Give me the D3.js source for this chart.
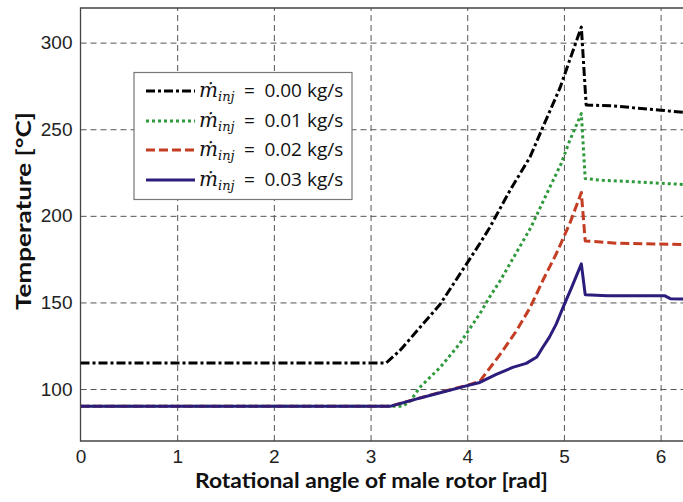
<!DOCTYPE html>
<html>
<head>
<meta charset="utf-8">
<script src="https://cdn.jsdelivr.net/npm/d3@7/dist/d3.min.js"></script>
<style>
  body { margin: 0; background: #fff; }
  svg { display: block; }
</style>
</head>
<body>
<div id="chart"></div>
<script>
// данные
const xTicks = [0, 1, 2, 3, 4, 5, 6];
const yTicks = [100, 150, 200, 250, 300];
const flowRates = ["0.00", "0.01", "0.02", "0.03"];

const angle000 = [0, 3.16, 3.30, 3.51, 3.72, 3.99, 4.13, 4.23, 4.44, 4.65, 4.78, 4.96, 5.06, 5.18, 5.23, 5.5, 5.8, 6.0, 6.283];
const temp000  = [115, 115, 122, 135.5, 149, 172, 184, 193, 214.5, 234, 251, 274, 290, 309, 264, 263.5, 262, 261, 259.5];

const angle001 = [0, 3.33, 3.41, 3.51, 3.65, 3.72, 3.92, 4.01, 4.13, 4.23, 4.34, 4.66, 4.82, 4.97, 5.06, 5.18, 5.22, 5.4, 5.68, 6.0, 6.283];
const temp001  = [90, 90, 93, 101, 108.7, 112.5, 126, 133.5, 143.5, 153, 162.5, 193.5, 212.5, 230, 243.5, 259, 221.5, 220.5, 219.8, 218.8, 218];

const angle002 = [0, 3.2, 3.47, 3.7, 3.99, 4.13, 4.16, 4.34, 4.51, 4.65, 4.78, 4.92, 5.06, 5.18, 5.22, 5.55, 5.93, 6.283];
const temp002  = [90, 90, 94.2, 97.8, 102, 104.5, 106.7, 120, 133.7, 147, 162.5, 178, 195.5, 213.5, 185.5, 184.2, 183.8, 183.4];

const angle003 = [0, 3.2, 3.47, 3.7, 3.99, 4.13, 4.30, 4.47, 4.61, 4.72, 4.78, 4.85, 4.92, 4.99, 5.08, 5.18, 5.22, 5.45, 6.04, 6.1, 6.283];
const temp003  = [90, 90, 94.2, 97.6, 101.8, 103.8, 108.5, 112.5, 114.8, 118.5, 124, 130, 137.5, 147, 158.7, 172.3, 154.5, 153.9, 153.9, 152.2, 152];

const W = 683, H = 502;
const plotLeft = 80.5, plotRight = 688, plotTop = 8, plotBottom = 441;

const svg = d3.select("#chart").append("svg")
    .attr("width", W)
    .attr("height", H);

const scaleX = d3.scaleLinear().domain([0, 2 * Math.PI]).range([plotLeft, plotRight]);
const scaleY = d3.scaleLinear().domain([70, 320]).range([plotBottom, plotTop]);

svg.append("clipPath").attr("id", "plotClip")
  .append("rect")
    .attr("x", plotLeft).attr("y", plotTop)
    .attr("width", plotRight - plotLeft).attr("height", plotBottom - plotTop);

// сетка
const grid = svg.append("g").attr("class", "grid");
grid.append("g")
    .attr("transform", "translate(0," + plotBottom + ")")
    .call(d3.axisBottom(scaleX).tickValues(xTicks.slice(1)).tickSize(-(plotBottom - plotTop)).tickFormat(""))
    .call(g => g.select(".domain").remove());
grid.append("g")
    .attr("transform", "translate(" + plotLeft + ",0)")
    .call(d3.axisLeft(scaleY).tickValues(yTicks).tickSize(-(plotRight - plotLeft)).tickFormat(""))
    .call(g => g.select(".domain").remove());
grid.selectAll("line")
    .attr("stroke", "#555")
    .attr("stroke-width", 1)
    .attr("stroke-dasharray", "6,4");

// подписи осей (числа)
const xAxis = svg.append("g")
    .attr("transform", "translate(0," + plotBottom + ")")
    .call(d3.axisBottom(scaleX).tickValues(xTicks).tickSize(0).tickPadding(9).tickFormat(d3.format("d")));
const yAxis = svg.append("g")
    .attr("transform", "translate(" + plotLeft + ",0)")
    .call(d3.axisLeft(scaleY).tickValues(yTicks).tickSize(0).tickPadding(8).tickFormat(d3.format("d")));
[xAxis, yAxis].forEach(a => {
  a.select(".domain").remove();
  a.selectAll("text")
    .attr("font-family", "'Liberation Sans', Arial, sans-serif")
    .attr("font-size", 19)
    .attr("fill", "#222");
});

// рамка
svg.append("path")
    .attr("d", "M" + plotRight + "," + plotTop + "H" + plotLeft + "V" + plotBottom + "H" + plotRight)
    .attr("fill", "none")
    .attr("stroke", "#444")
    .attr("stroke-width", 1.3);

// линии
const series = [
  {x: angle000, y: temp000, color: "#000000", dash: "9,3,3,3"},
  {x: angle001, y: temp001, color: "#2f9a3c", dash: "3,3"},
  {x: angle002, y: temp002, color: "#c43c22", dash: "9,4"},
  {x: angle003, y: temp003, color: "#2a1d7c", dash: null}
];

const line = d3.line()
    .x(d => scaleX(d[0]))
    .y(d => scaleY(d[1]));

const plot = svg.append("g").attr("clip-path", "url(#plotClip)");
series.forEach(s => {
  plot.append("path")
      .attr("d", line(s.x.map((v, i) => [v, s.y[i]])))
      .attr("fill", "none")
      .attr("stroke", s.color)
      .attr("stroke-width", 3)
      .attr("stroke-linejoin", "round")
      .attr("stroke-dasharray", s.dash);
});

// легенда
const legend = svg.append("g");
legend.append("rect")
    .attr("x", 134).attr("y", 72.5)
    .attr("width", 218).attr("height", 127)
    .attr("fill", "#fff")
    .attr("stroke", "#777")
    .attr("stroke-width", 1.2);

const rowY = [91, 121, 150, 180];
series.forEach((s, i) => {
  legend.append("line")
      .attr("x1", 146).attr("x2", 195)
      .attr("y1", rowY[i]).attr("y2", rowY[i])
      .attr("stroke", s.color)
      .attr("stroke-width", 3)
      .attr("stroke-dasharray", s.dash);
  const t = legend.append("text")
      .attr("x", 199).attr("y", rowY[i] + 6)
      .attr("fill", "#111");
  t.append("tspan")
      .attr("font-family", "'DejaVu Serif', serif")
      .attr("font-style", "italic")
      .attr("font-size", 20)
      .text("\u1E41");
  t.append("tspan")
      .attr("font-family", "'DejaVu Serif', serif")
      .attr("font-style", "italic")
      .attr("font-size", 13)
      .attr("dy", 4)
      .text("inj");
  t.append("tspan")
      .attr("font-family", "'Open Sans', sans-serif")
      .attr("font-size", 19)
      .attr("dy", -4)
      .text("\u2002=\u2002" + flowRates[i] + " kg/s");
});

// названия осей
svg.append("text")
    .attr("x", 371.5)
    .attr("y", 488)
    .attr("text-anchor", "middle")
    .attr("font-family", "Lato, 'Open Sans', sans-serif")
    .attr("font-weight", "bold")
    .attr("font-size", 21)
    .attr("textLength", 353)
    .attr("lengthAdjust", "spacingAndGlyphs")
    .attr("fill", "#111")
    .text("Rotational angle of male rotor [rad]");

svg.append("text")
    .attr("transform", "translate(31,211) rotate(-90)")
    .attr("text-anchor", "middle")
    .attr("font-family", "Lato, 'Open Sans', sans-serif")
    .attr("font-weight", "bold")
    .attr("font-size", 21)
    .attr("textLength", 198)
    .attr("lengthAdjust", "spacingAndGlyphs")
    .attr("fill", "#111")
    .text("Temperature [°C]");
</script>
</body>
</html>
